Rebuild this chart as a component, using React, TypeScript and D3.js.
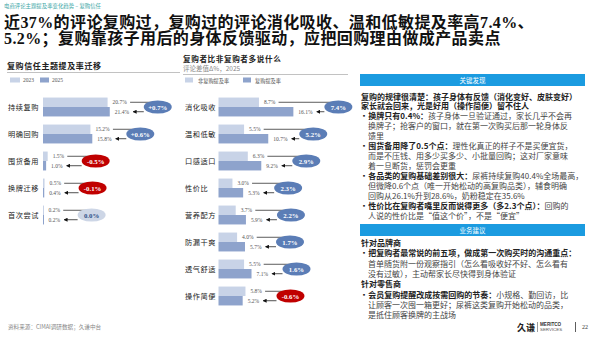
import React from 'react';
import * as d3 from 'd3';

// ---------- data ----------
const trustCats = ['持续复购', '明确回购', '囤货备用', '换牌迁移', '首次尝试'];
const trust2023 = [20.7, 15.2, 1.5, 0.5, 0.2];
const trust2025 = [21.4, 15.8, 1.0, 0.4, 0.2];
const trustLegend = ['2023', '2025'];

const topicCats = ['消化吸收', '温和低敏', '口感适口', '性价比', '营养配方', '防漏干爽', '透气舒适', '操作简便'];
const nonRepeat = [8.7, 5.5, 6.3, 3.0, 3.7, 4.0, 5.5, 5.8];
const repeatBuy = [16.1, 10.7, 9.2, 5.3, 5.9, 5.7, 7.1, 5.2];
const topicLegend = ['非复购提及率', '复购提及率'];

const kicker = '电商评论主题提及率变化趋势 – 复购信任';
const titleLines = [
  '近37%的评论复购过，复购过的评论消化吸收、温和低敏提及率高7.4%、',
  '5.2%；复购靠孩子用后的身体反馈驱动，应把回购理由做成产品卖点',
];
const leftTitle = '复购信任主题提及率迁移';
const midTitle = '复购者比非复购者多说什么';
const midSubtitle = '评论差值Δ%，2025';
const source = '资料来源：CIMAI调研数据；久谦中台';

type Line = { kind: 'head' | 'bullet' | 'indent'; b?: string; n?: string };
const findingsHeader = '关键发现';
const findings: Line[] = [
  { kind: 'head', b: '复购的规律很清楚：孩子身体有反馈（消化变好、皮肤变好）' },
  { kind: 'head', b: '家长就会回来，光是好用（操作简便）留不住人' },
  { kind: 'bullet', b: '换牌只有0.4%：', n: '孩子身体一旦验证通过，家长几乎不会再' },
  { kind: 'indent', n: '换牌子；抢客户的窗口，就在第一次购买后那一轮身体反' },
  { kind: 'indent', n: '馈里' },
  { kind: 'bullet', b: '囤货备用降了0.5个点：', n: '理性化真正的样子不是买便宜货，' },
  { kind: 'indent', n: '而是不压钱、用多少买多少、小批量回购；这对厂家意味' },
  { kind: 'indent', n: '着一旦断货，惩罚会更重' },
  { kind: 'bullet', b: '各品类的复购基础差别很大：', n: '尿裤持续复购40.4%全场最高，' },
  { kind: 'indent', n: '但微降0.6个点（唯一开始松动的高复购品类），辅食明确' },
  { kind: 'indent', n: '回购从26.1%升到28.6%，奶粉稳定在35.6%' },
  { kind: 'bullet', b: '性价比在复购者嘴里反而说得更多（多2.3个点）：', n: '回购的' },
  { kind: 'indent', n: '人说的性价比是“值这个价”，不是“便宜”' },
];
const adviceHeader = '业务建议';
const advice: Line[] = [
  { kind: 'head', b: '针对品牌商' },
  { kind: 'bullet', b: '把复购者最常说的前五项，做成第一次购买时的沟通重点：' },
  { kind: 'indent', n: '首单随货附一份观察指引（怎么看吸收好不好、怎么看有' },
  { kind: 'indent', n: '没有过敏），主动帮家长尽快得到身体验证' },
  { kind: 'head', b: '针对零售商' },
  { kind: 'bullet', b: '会员复购提醒改成按需回购的节奏：', n: '小规格、勤回访，比' },
  { kind: 'indent', n: '让顾客一次囤一箱更好；尿裤这类复购开始松动的品类，' },
  { kind: 'indent', n: '是抵住顾客换牌的主战场' },
];

// ---------- style ----------
const CJK = "'Noto Sans CJK SC', sans-serif";
const SERIF = "'Liberation Serif', 'Noto Sans CJK SC', serif";
const LIGHT = '#c8d3e7';
const DARK = '#8ea3cc';
const POS = '#5b7db6';
const NEG = '#c00000';
const ZERO = '#cdd6e6';
const BLUE_HDR = '#1b9be0';

const round1 = (v: number) => Math.round(v * 10) / 10;
const txtW = (s: string) => s.length * 2.9;

function PairPanel(props: {
  cats: string[]; a: number[]; b: number[]; x: d3.ScaleLinear<number, number>;
  y: d3.ScaleBand<string>; labelX: number; bubbleOffset: number; signed: boolean;
}) {
  const { cats, a, b, x, y, labelX, bubbleOffset, signed } = props;
  const sub = d3.scaleBand<string>().domain(['a', 'b']).range([0, y.bandwidth()]);
  const x0 = x(0);
  return (
    <g>
      {cats.map((c, i) => {
        const y0 = y(c)!;
        const cy = y0 + y.bandwidth() / 2;
        const ya = y0 + sub('a')! + sub.bandwidth() / 2;
        const yb = y0 + sub('b')! + sub.bandwidth() / 2;
        const d = round1(b[i] - a[i]);
        const dTxt = (signed && d > 0 ? '+' : '') + d.toFixed(1) + '%';
        const cx = x(Math.max(a[i], b[i])) + bubbleOffset;
        const la = `${a[i].toFixed(1)}%`;
        const lb = `${b[i].toFixed(1)}%`;
        const endA = x(a[i]) + 5 + txtW(la) + 3;
        const endB = x(b[i]) + 5 + txtW(lb) + 3;
        const fill = d > 0 ? POS : d < 0 ? NEG : ZERO;
        const tcol = d === 0 ? '#2f4f86' : '#fff';
        return (
          <g key={c}>
            <text x={labelX} y={cy} dominantBaseline="central" fontFamily={CJK} fontSize={7.2} letterSpacing={0.6} fill="#222">{c}</text>
            <rect x={x0} y={y0 + sub('a')!} width={Math.max(1, x(a[i]) - x0)} height={sub.bandwidth()} fill={LIGHT} />
            <rect x={x0} y={y0 + sub('b')!} width={Math.max(1, x(b[i]) - x0)} height={sub.bandwidth()} fill={DARK} />
            <text x={x(a[i]) + 5} y={ya} dominantBaseline="central" fontFamily={SERIF} fontSize={5.5} fill="#555">{la}</text>
            <text x={x(b[i]) + 5} y={yb} dominantBaseline="central" fontFamily={SERIF} fontSize={5.5} fill="#555">{lb}</text>
            <line x1={endA} x2={cx} y1={ya} y2={ya} stroke="#333" strokeWidth={0.8} />
            <line x1={cx - 14} x2={endB + 1} y1={yb} y2={yb} stroke="#222" strokeWidth={0.8} markerEnd="url(#arr)" />
            <ellipse cx={cx} cy={cy} rx={14} ry={6.6} fill={fill} />
            <text x={cx} y={cy + 0.3} textAnchor="middle" dominantBaseline="central" fontFamily={SERIF} fontWeight="bold" fontSize={6.8} fill={tcol}>{dTxt}</text>
          </g>
        );
      })}
    </g>
  );
}

function TextBlock(props: { lines: Line[]; y0: number; step: number }) {
  const { lines, y0, step } = props;
  return (
    <g fontFamily={CJK} fontSize={8} fill="#222">
      {lines.map((l, i) => {
        const y = y0 + i * step;
        const x = l.kind === 'indent' ? 368 : 361;
        return (
          <text key={i} x={x} y={y} dominantBaseline="central">
            {l.kind === 'bullet' && <tspan fontSize={6}>▪ </tspan>}
            {l.b && <tspan fontWeight="bold">{l.b}</tspan>}
            {l.n && <tspan fill="#444">{l.n}</tspan>}
          </text>
        );
      })}
    </g>
  );
}

export default function App() {
  const xL = d3.scaleLinear().domain([0, 25]).range([43, 121]);
  const yL = d3.scaleBand<string>().domain(trustCats).range([93.5, 93.5 + 27 * trustCats.length]).paddingInner(0.3).paddingOuter(0.15);
  const xM = d3.scaleLinear().domain([0, 20]).range([218.5, 311.5]);
  const yM = d3.scaleBand<string>().domain(topicCats).range([93.5, 93.5 + 27 * topicCats.length]).paddingInner(0.3).paddingOuter(0.15);

  return (
    <svg width={600} height={338} viewBox="0 0 600 338" style={{ position: 'absolute', left: 0, top: 0, background: '#fff' }}>
      <defs>
        <marker id="arr" viewBox="0 0 6 6" refX={5} refY={3} markerWidth={4} markerHeight={4} orient="auto" markerUnits="userSpaceOnUse">
          <path d="M0,0 L6,3 L0,6 Z" fill="#111" />
        </marker>
      </defs>
      <rect width={600} height={338} fill="#fff" />
      {/* header */}
      <text x={4} y={6} dominantBaseline="central" fontFamily={CJK} fontSize={5.4} fill="#3ba6a6">{kicker}</text>
      {titleLines.map((t, i) => (
        <text key={i} x={4} y={22 + i * 16.5} dominantBaseline="central" fontFamily={SERIF} fontWeight="bold" fontSize={16}
          letterSpacing={0.4} fill="#111">{t}</text>
      ))}

      {/* left panel */}
      <text x={7} y={65} dominantBaseline="central" fontFamily={CJK} fontWeight="bold" fontSize={8} letterSpacing={0.6} fill="#222">{leftTitle}</text>
      <line x1={7} x2={180} y1={72.5} y2={72.5} stroke="#999" strokeWidth={0.6} />
      <rect x={10} y={77.5} width={10} height={5} fill={LIGHT} />
      <text x={23} y={80} dominantBaseline="central" fontFamily={SERIF} fontSize={5.5} fill="#555">{trustLegend[0]}</text>
      <rect x={40} y={77.5} width={9} height={5} fill={DARK} />
      <text x={52} y={80} dominantBaseline="central" fontFamily={SERIF} fontSize={5.5} fill="#555">{trustLegend[1]}</text>
      <PairPanel cats={trustCats} a={trust2023} b={trust2025} x={xL} y={yL} labelX={8} bubbleOffset={48} signed={true} />
      <text x={8} y={327} dominantBaseline="central" fontFamily={CJK} fontSize={5.6} fill="#888">{source}</text>

      {/* middle panel */}
      <text x={183} y={58} dominantBaseline="central" fontFamily={CJK} fontWeight="bold" fontSize={7.6} letterSpacing={0.6} fill="#222">{midTitle}</text>
      <text x={183} y={68} dominantBaseline="central" fontFamily={CJK} fontSize={6.5} fill="#888">{midSubtitle}</text>
      <line x1={183} x2={348} y1={74.5} y2={74.5} stroke="#999" strokeWidth={0.6} />
      <rect x={185} y={77.5} width={8} height={5} fill={LIGHT} />
      <text x={198} y={80} dominantBaseline="central" fontFamily={CJK} fontSize={5.2} fill="#555">{topicLegend[0]}</text>
      <rect x={243} y={77.5} width={8} height={5} fill={DARK} />
      <text x={255} y={80} dominantBaseline="central" fontFamily={CJK} fontSize={5.2} fill="#555">{topicLegend[1]}</text>
      <PairPanel cats={topicCats} a={nonRepeat} b={repeatBuy} x={xM} y={yM} labelX={185} bubbleOffset={45} signed={false} />

      {/* right panel */}
      <rect x={360} y={74} width={225} height={12} fill={BLUE_HDR} />
      <text x={472.5} y={80} textAnchor="middle" dominantBaseline="central" fontFamily={CJK} fontSize={6.5} fill="#fff">{findingsHeader}</text>
      <TextBlock lines={findings} y0={95.5} step={9.95} />
      <rect x={360} y={224} width={225} height={12} fill={BLUE_HDR} />
      <text x={472.5} y={230} textAnchor="middle" dominantBaseline="central" fontFamily={CJK} fontSize={6.5} fill="#fff">{adviceHeader}</text>
      <TextBlock lines={advice} y0={242} step={10.3} />

      {/* logo */}
      <text x={517} y={327} dominantBaseline="central" fontFamily={CJK} fontWeight="bold" fontSize={9} fill="#222">久谦</text>
      <line x1={537.5} x2={537.5} y1={322} y2={332} stroke="#555" strokeWidth={0.6} />
      <text x={540} y={324.5} dominantBaseline="central" fontFamily="'Liberation Sans', sans-serif" fontWeight="bold" fontSize={4.6} fill="#333">MERITCO</text>
      <text x={540} y={329.8} dominantBaseline="central" fontFamily="'Liberation Sans', sans-serif" fontSize={4.4} fill="#555">SERVICES</text>
      <line x1={575.5} x2={575.5} y1={322} y2={332} stroke="#333" strokeWidth={0.8} />
      <text x={582} y={327} dominantBaseline="central" fontFamily={SERIF} fontSize={6} fill="#333">22</text>
    </svg>
  );
}
